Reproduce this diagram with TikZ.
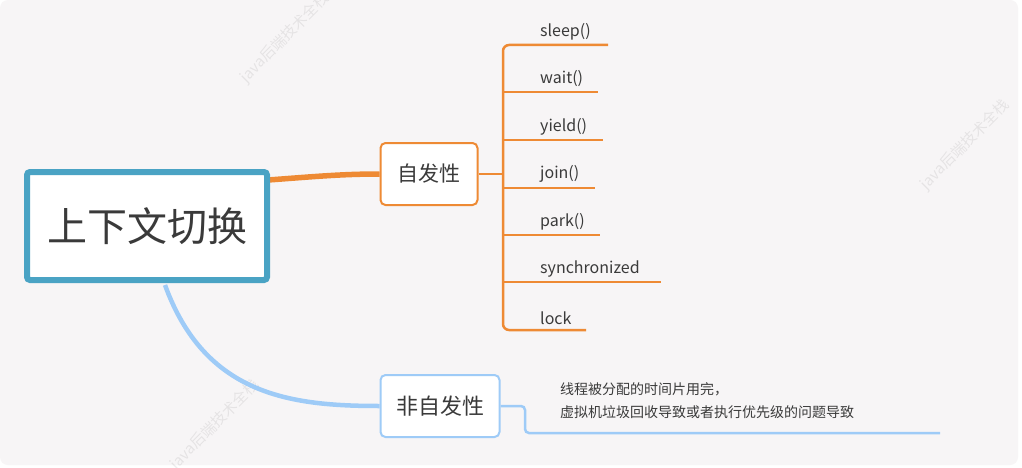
\documentclass[tikz,border=0pt]{standalone}
\usepackage{fontspec}
\setmainfont{Noto Sans CJK SC}
\newfontfamily\cjk{Noto Sans CJK SC}
\begin{document}
\begin{tikzpicture}[x=1pt,y=-1pt,
  rootbox/.style={draw=teal1,line width=6pt,fill=white,rounded corners=3pt,minimum width=240pt,minimum height=108pt,inner sep=0pt,font=\fontsize{40}{44}\selectfont,text=txt},
  obox/.style={draw=or1,line width=2pt,fill=white,rounded corners=5pt,minimum width=97pt,minimum height=62pt,inner sep=0pt,font=\fontsize{21}{24}\selectfont,text=txt},
  bbox/.style={draw=bl1,line width=2pt,fill=white,rounded corners=5pt,minimum width=119pt,minimum height=62pt,inner sep=0pt,font=\fontsize{22}{24}\selectfont,text=txt},
  oline/.style={draw=or1,line width=2.5pt},
  bline/.style={draw=bl1,line width=2.5pt},
  leaf/.style={anchor=south west,inner sep=0pt,font=\fontsize{16}{18}\selectfont,text=txt},
  wm/.style={rotate=45,text=black,opacity=0.07,font=\fontsize{15}{17}\selectfont}
]
\definecolor{teal1}{HTML}{4AA3C4}
\definecolor{or1}{HTML}{EE8A34}
\definecolor{bl1}{HTML}{9ECBF7}
\definecolor{txt}{HTML}{3A3A3A}
\definecolor{bg}{HTML}{F7F5F6}
\useasboundingbox (0,0) rectangle (1022,468);
\fill[white] (0,0) rectangle (1022,468);
\fill[bg,rounded corners=8pt] (0,0) rectangle (1018,465);
% watermarks
\node[wm] (w1) at (285,38) {java后端技术全栈};
\node[wm] (w2) at (965,145) {java后端技术全栈};
\node[wm] (w5) at (215,425) {java后端技术全栈};
% connectors from root
\coordinate (ra) at (268,180);
\coordinate (rb) at (165,285);
\node[obox] (zf) at (429,174) {自发性};
\node[bbox] (nz) at (440,406) {非自发性};
\draw[or1,line width=5.5pt] (ra) .. controls (310,177) and (340,174) .. (zf.west);
\draw[bl1,line width=4.5pt] (rb) .. controls (205,395) and (290,406) .. (nz.west);
\node[rootbox] (root) at (147,226) {上下文切换};
% orange branch
\coordinate (j) at (503,174);
\coordinate (e1) at (608,45);
\coordinate (e7) at (586,330);
\foreach \i/\y/\ex in {2/92/598,3/140/603,4/188/595,5/235/600,6/282/661}{
  \coordinate (s\i) at (503,\y);
  \coordinate (e\i) at (\ex,\y);
}
\draw[oline] (zf.east) -- (j);
\draw[oline,rounded corners=6pt] (e1) -| (j) |- (e7);
\foreach \i in {2,...,6}{\draw[oline] (s\i) -- (e\i);}
\node[leaf] (l1) at (540,40) {sleep()};
\node[leaf] (l2) at (540,87) {wait()};
\node[leaf] (l3) at (540,135) {yield()};
\node[leaf] (l4) at (540,183) {join()};
\node[leaf] (l5) at (540,230) {park()};
\node[leaf] (l6) at (540,277) {synchronized};
\node[leaf] (l7) at (540,325) {lock};
% blue branch
\coordinate (bj) at (525,406);
\coordinate (be) at (940,433);
\draw[bline,rounded corners=4pt] (nz.east) -- (bj) |- (be);
\node[anchor=west,inner sep=0pt,align=left,font=\fontsize{14}{23}\selectfont,text=txt] (desc) at (560,401) {线程被分配的时间片用完，\\虚拟机垃圾回收导致或者执行优先级的问题导致};
\end{tikzpicture}
\end{document}
